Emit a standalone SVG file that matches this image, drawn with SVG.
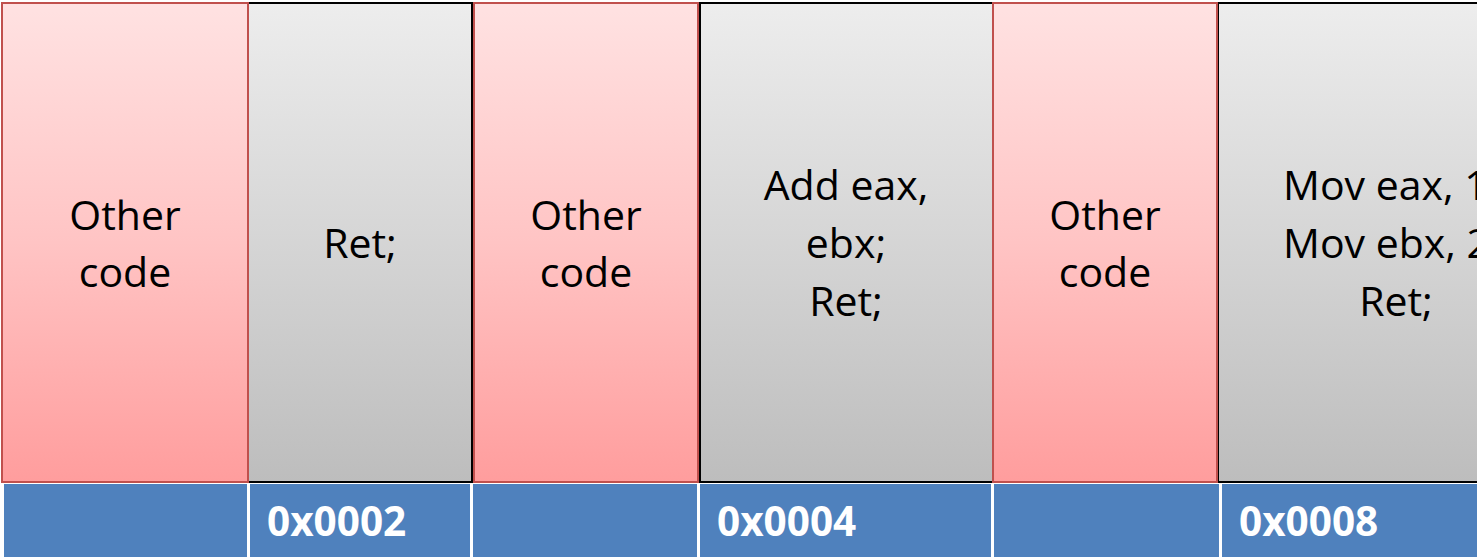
<svg xmlns="http://www.w3.org/2000/svg" width="1477" height="557" viewBox="0 0 1477 557">
<defs>
<linearGradient id="gr" x1="0" y1="0" x2="0" y2="1">
<stop offset="0" stop-color="#ffe2e2"/>
<stop offset="0.5" stop-color="#ffc4c4"/>
<stop offset="1" stop-color="#ff9d9d"/>
</linearGradient>
<linearGradient id="gg" x1="0" y1="0" x2="0" y2="1">
<stop offset="0" stop-color="#ededed"/>
<stop offset="1" stop-color="#bdbdbd"/>
</linearGradient>
<style>
.red{fill:url(#gr);stroke:#c0504d;stroke-width:2}
.gray{fill:url(#gg);stroke:#000;stroke-width:2}
.cell{fill:#4f81bd}
.t{font-family:"Open Sans","Liberation Sans",sans-serif;font-size:41px;fill:#000;text-anchor:middle}
.s{font-family:"Open Sans","Liberation Sans",sans-serif;font-size:41px;fill:#000}
.a{font-family:"Open Sans","Liberation Sans",sans-serif;font-size:40.5px;font-weight:bold;fill:#fff}
</style>
</defs>
<rect width="1477" height="557" fill="#fff"/>
<g id="col2">
<rect class="gray" x="248" y="3" width="224" height="479"/>
<text class="t" x="360" y="258">Ret;</text>
</g>
<g id="col4">
<rect class="gray" x="700" y="3" width="293" height="479"/>
<text class="t" x="846" y="200">Add eax,</text>
<text class="t" x="846" y="258">ebx;</text>
<text class="t" x="846" y="316">Ret;</text>
</g>
<g id="col6">
<rect class="gray" x="1218" y="3" width="360" height="479"/>
<text class="s" x="1283" y="200">Mov eax, 1;</text>
<text class="s" x="1283" y="258">Mov ebx, 2;</text>
<text class="t" x="1396" y="316">Ret;</text>
</g>
<g id="col1">
<rect class="red" x="2" y="3" width="246" height="479"/>
<text class="t" x="125" y="230">Other</text>
<text class="t" x="125" y="287">code</text>
</g>
<g id="col3">
<rect class="red" x="474" y="3" width="224" height="479"/>
<text class="t" x="586" y="230">Other</text>
<text class="t" x="586" y="287">code</text>
</g>
<g id="col5">
<rect class="red" x="993" y="3" width="224" height="479"/>
<text class="t" x="1105" y="230">Other</text>
<text class="t" x="1105" y="287">code</text>
</g>
<g id="addresses">
<rect class="cell" x="4" y="484" width="243" height="80"/>
<rect class="cell" x="250" y="484" width="220" height="80"/>
<rect class="cell" x="473" y="484" width="224" height="80"/>
<rect class="cell" x="700" y="484" width="291" height="80"/>
<rect class="cell" x="994" y="484" width="225" height="80"/>
<rect class="cell" x="1222" y="484" width="260" height="80"/>
<text class="a" x="267" y="536">0x0002</text>
<text class="a" x="717" y="536">0x0004</text>
<text class="a" x="1239" y="536">0x0008</text>
</g>
<g id="connectors"/>
</svg>
